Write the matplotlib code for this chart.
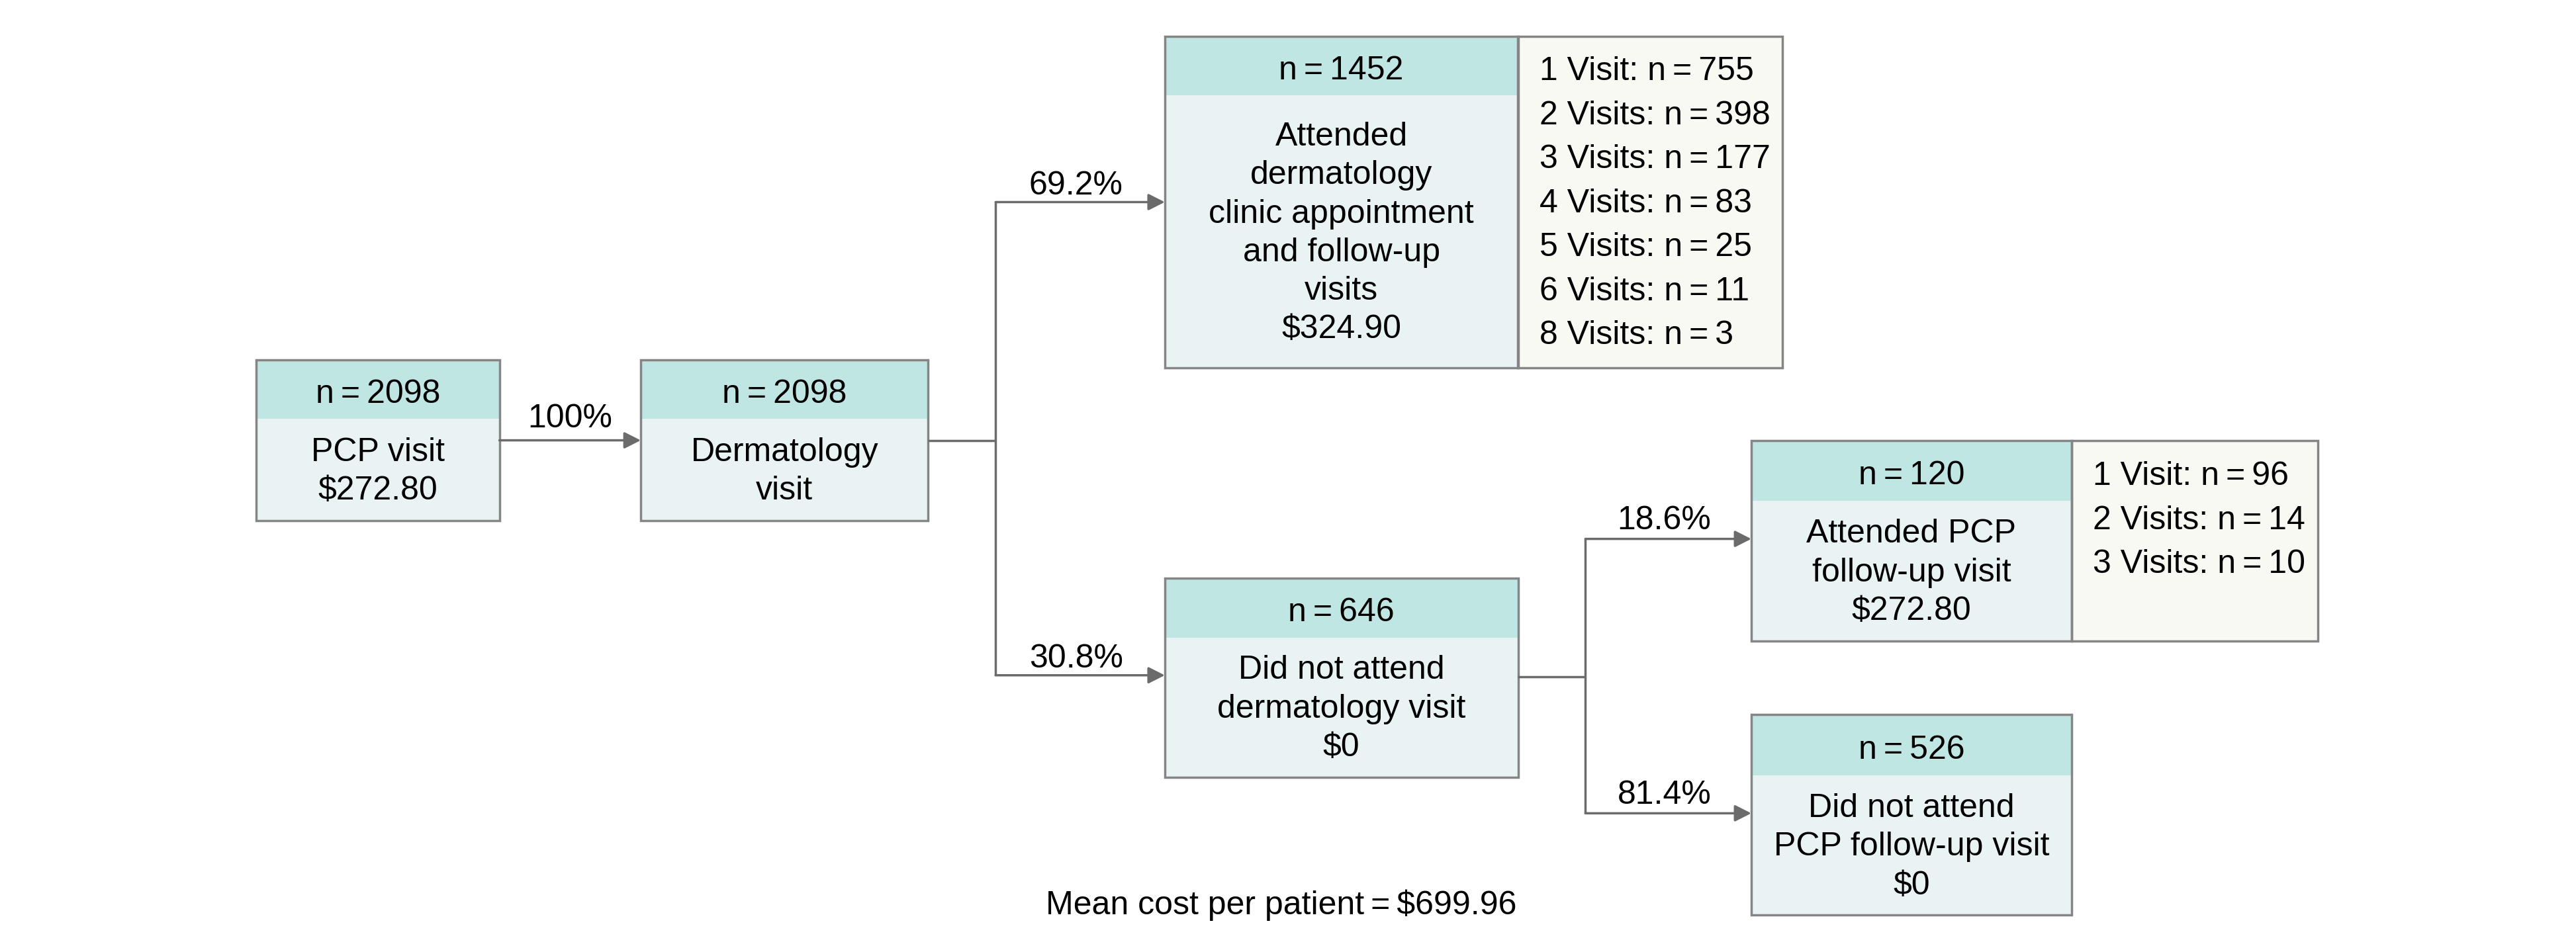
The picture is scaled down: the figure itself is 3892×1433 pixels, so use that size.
import matplotlib
matplotlib.use("Agg")
import matplotlib.pyplot as plt
from matplotlib.patches import Rectangle

plt.rcParams['font.family'] = ['Liberation Sans', 'DejaVu Sans']

# data
node_n = [2098, 2098, 1452, 646, 120, 526]
node_text = ["PCP visit\n$272.80",
             "Dermatology\nvisit",
             "Attended\ndermatology\nclinic appointment\nand follow-up\nvisits\n$324.90",
             "Did not attend\ndermatology visit\n$0",
             "Attended PCP\nfollow-up visit\n$272.80",
             "Did not attend\nPCP follow-up visit\n$0"]
derm_visits = ["1 Visit", "2 Visits", "3 Visits", "4 Visits", "5 Visits", "6 Visits", "8 Visits"]
derm_counts = [755, 398, 177, 83, 25, 11, 3]
pcp_visits = ["1 Visit", "2 Visits", "3 Visits"]
pcp_counts = [96, 14, 10]
pct_labels = ["100%", "69.2%", "30.8%", "18.6%", "81.4%"]
mean_cost = "$699.96"

# layout (in reference 1568x577 units)
# x0, x1, ytop, yheader, ybottom
boxes = [(156, 304, 219, 255, 317),
         (390, 565, 219, 255, 317),
         (709, 924, 22, 58, 224),
         (709, 924, 352, 388, 473),
         (1066, 1261, 268, 305, 390),
         (1066, 1261, 435, 472, 557)]
side_boxes = {2: 1085, 4: 1411}

HEAD = "#c0e6e4"
BODY = "#eaf3f4"
SIDE = "#f8f9f2"
EDGE = "#858585"
ARROW = "#6b6b6b"
FS = 36
thin = "\u2009"

fig = plt.figure(figsize=(38.92, 14.33), dpi=100)
ax = fig.add_axes([0, 0, 1, 1])
ax.set_xlim(0, 1568)
ax.set_ylim(577, 0)
ax.axis("off")

for i, (x0, x1, yt, yh, yb) in enumerate(boxes):
    ax.add_patch(Rectangle((x0, yh), x1 - x0, yb - yh, fc=BODY, ec="none"))
    ax.add_patch(Rectangle((x0, yt), x1 - x0, yh - yt, fc=HEAD, ec="none"))
    if i in side_boxes:
        ax.add_patch(Rectangle((x1, yt), side_boxes[i] - x1, yb - yt, fc=SIDE, ec=EDGE, lw=2.5))
    ax.add_patch(Rectangle((x0, yt), x1 - x0, yb - yt, fc="none", ec=EDGE, lw=2.5))
    ax.text((x0 + x1) / 2, (yt + yh) / 2 + 3, "n" + thin + "=" + thin + str(node_n[i]),
            ha="center", va="center", fontsize=FS)
    ax.text((x0 + x1) / 2, (yh + yb) / 2 + 1, node_text[i], ha="center", va="center",
            fontsize=FS, linespacing=1.34)

def side_list(i, names, counts):
    x0, x1, yt, yh, yb = boxes[i]
    for k, (nm, c) in enumerate(zip(names, counts)):
        ax.text(x1 + 13, (yt + yh) / 2 + 3.5 + k * 26.8, nm + ": n" + thin + "=" + thin + str(c),
                ha="left", va="center", fontsize=FS)

side_list(2, derm_visits, derm_counts)
side_list(4, pcp_visits, pcp_counts)

def arrow(x0, x1, y):
    ax.annotate("", xy=(x1, y), xytext=(x0, y),
                arrowprops=dict(arrowstyle="-|>,head_length=0.75,head_width=0.38",
                                mutation_scale=20, color=ARROW, lw=2.5,
                                shrinkA=0, shrinkB=0))

def line(xs, ys):
    ax.plot(xs, ys, color=ARROW, lw=2.5, solid_capstyle="butt")

# PCP -> Dermatology
arrow(304, 390, 268)
ax.text(347, 255, pct_labels[0], ha="center", va="center", fontsize=FS)

# Dermatology split
line([565, 606], [268, 268])
line([606, 606], [123, 411])
arrow(606, 709, 123)
arrow(606, 709, 411)
ax.text(655, 113, pct_labels[1], ha="center", va="center", fontsize=FS)
ax.text(655, 401, pct_labels[2], ha="center", va="center", fontsize=FS)

# Did not attend split
line([924, 965], [412, 412])
line([965, 965], [328, 495])
arrow(965, 1066, 328)
arrow(965, 1066, 495)
ax.text(1013, 317, pct_labels[3], ha="center", va="center", fontsize=FS)
ax.text(1013, 484, pct_labels[4], ha="center", va="center", fontsize=FS)

ax.text(780, 551, "Mean cost per patient" + thin + "=" + thin + mean_cost,
        ha="center", va="center", fontsize=FS)

fig.savefig("out.png", dpi=100, facecolor="white")
